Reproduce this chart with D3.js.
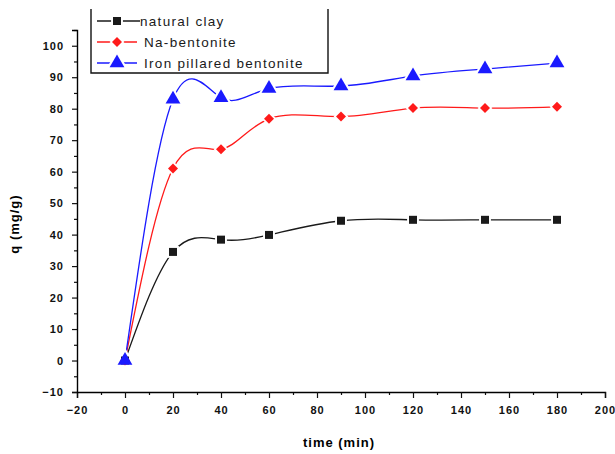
<!DOCTYPE html>
<html>
<head>
<meta charset="utf-8">
<script src="https://cdn.jsdelivr.net/npm/d3@7"></script>
<style>
  body { margin: 0; background: #fff; }
  .tick text { font-family: "Liberation Sans", Arial, sans-serif; font-weight: bold; font-size: 11px; letter-spacing: 1px; fill: #111; }
</style>
</head>
<body>
<div id="chart"></div>
<script>
let time = [0, 20, 40, 60, 90, 120, 150, 180];
let naturalClay = [0, 34.5, 38.4, 39.9, 44.4, 44.7, 44.7, 44.7];
let naBentonite = [0, 61.0, 67.1, 76.8, 77.5, 80.2, 80.2, 80.6];
let ironPillared = [0, 83.0, 83.5, 86.4, 87.2, 90.4, 92.6, 94.5];
let seriesNames = ["natural clay", "Na-bentonite", "Iron pillared bentonite"];
let xTicks = [-20, 0, 20, 40, 60, 80, 100, 120, 140, 160, 180, 200];
let yTicks = [-10, 0, 10, 20, 30, 40, 50, 60, 70, 80, 90, 100];

let width = 615;
let height = 454;

// diamond = square turned 45 degrees
let series = [
    {name: seriesNames[0], values: naturalClay, color: "#1a1a1a", symbol: d3.symbolSquare, size: 64, rot: 0},
    {name: seriesNames[1], values: naBentonite, color: "#ff1a1a", symbol: d3.symbolSquare, size: 50, rot: 45},
    {name: seriesNames[2], values: ironPillared, color: "#1a1aff", symbol: d3.symbolTriangle, size: 95, rot: 0}
];

let x = d3.scaleLinear().domain([-20, 200]).range([77, 605]);
let y = d3.scaleLinear().domain([-10, 105]).range([392, 30]);

let svg = d3.select("#chart")
    .append("svg")
    .attr("width", width)
    .attr("height", height);

// axes (major + minor ticks)
let xMinor = d3.range(-10, 200, 20);
let yMinor = d3.range(-5, 106, 10);

svg.append("g")
    .attr("transform", "translate(0," + y(-10) + ")")
    .call(d3.axisBottom(x).tickValues(xMinor).tickSize(3).tickFormat(""))
    .call(g => g.select(".domain").remove());

svg.append("g")
    .attr("transform", "translate(0," + y(-10) + ")")
    .call(d3.axisBottom(x).tickValues(xTicks).tickSizeOuter(0).tickSize(6).tickPadding(8).tickFormat(d3.format("d")))
    .call(g => g.select(".domain").attr("stroke-width", 1.4));

svg.append("g")
    .attr("transform", "translate(" + x(-20) + ",0)")
    .call(d3.axisLeft(y).tickValues(yMinor).tickSize(3).tickFormat(""))
    .call(g => g.select(".domain").remove());

svg.append("g")
    .attr("transform", "translate(" + x(-20) + ",0)")
    .call(d3.axisLeft(y).tickValues(yTicks).tickSizeOuter(0).tickSize(5).tickPadding(8).tickFormat(d3.format("d")))
    .call(g => g.select(".domain").attr("stroke-width", 1.4));

svg.selectAll(".tick line").attr("stroke", "#111").attr("stroke-width", 1.2);

// axis titles
svg.append("text")
    .attr("x", 339)
    .attr("y", 447)
    .attr("text-anchor", "middle")
    .style("font-family", "Liberation Sans, Arial, sans-serif")
    .style("font-weight", "bold")
    .style("font-size", "13px")
    .style("letter-spacing", "1px")
    .text("time (min)");

svg.append("text")
    .attr("transform", "translate(19,224) rotate(-90)")
    .attr("text-anchor", "middle")
    .style("font-family", "Liberation Sans, Arial, sans-serif")
    .style("font-weight", "bold")
    .style("font-size", "13px")
    .style("letter-spacing", "1px")
    .text("q (mg/g)");

// lines
let line = d3.line()
    .x((d, i) => x(time[i]))
    .y(d => y(d))
    .curve(d3.curveNatural);

svg.selectAll(".series-line")
    .data(series)
    .enter()
    .append("path")
    .attr("class", "series-line")
    .attr("fill", "none")
    .attr("stroke", d => d.color)
    .attr("stroke-width", 1.3)
    .attr("d", d => line(d.values));

// white halos make the small gaps round the markers
series.forEach(function(s) {
    svg.selectAll(null)
        .data(s.values)
        .enter()
        .append("path")
        .attr("transform", (d, i) => "translate(" + x(time[i]) + "," + y(d) + ") rotate(" + s.rot + ")")
        .attr("d", d3.symbol().type(s.symbol).size(s.size * 2.2))
        .attr("fill", "#fff");
});

series.forEach(function(s) {
    svg.selectAll(null)
        .data(s.values)
        .enter()
        .append("path")
        .attr("transform", (d, i) => "translate(" + x(time[i]) + "," + y(d) + ") rotate(" + s.rot + ")")
        .attr("d", d3.symbol().type(s.symbol).size(s.size))
        .attr("fill", s.color);
});

// legend
let legend = svg.append("g");

legend.append("rect")
    .attr("x", 91)
    .attr("y", 0)
    .attr("width", 237)
    .attr("height", 73)
    .attr("fill", "#fff");

legend.append("path")
    .attr("d", "M91,9V73H328V9")
    .attr("fill", "none")
    .attr("stroke", "#111")
    .attr("stroke-width", 1.4);

let legendG = legend.selectAll(".legend")
    .data(series)
    .enter()
    .append("g")
    .attr("class", "legend")
    .attr("transform", (d, i) => "translate(0," + (21 + i * 21) + ")");

legendG.append("line")
    .attr("x1", 97)
    .attr("x2", (d, i) => i === 0 ? 140 : 137)
    .attr("stroke", d => d.color)
    .attr("stroke-width", 1.3);

legendG.append("path")
    .attr("transform", d => "translate(117,0) rotate(" + d.rot + ")")
    .attr("d", d => d3.symbol().type(d.symbol).size(d.size * 2.2)())
    .attr("fill", "#fff");

legendG.append("path")
    .attr("transform", d => "translate(117,0) rotate(" + d.rot + ")")
    .attr("d", d => d3.symbol().type(d.symbol).size(d.size)())
    .attr("fill", d => d.color);

legendG.append("text")
    .attr("x", (d, i) => i === 0 ? 140 : 144)
    .attr("dy", "0.35em")
    .style("font-family", "Liberation Sans, Arial, sans-serif")
    .style("font-size", "13.5px")
    .style("letter-spacing", "1.3px")
    .style("fill", "#1a1a1a")
    .text(d => d.name);
</script>
</body>
</html>
